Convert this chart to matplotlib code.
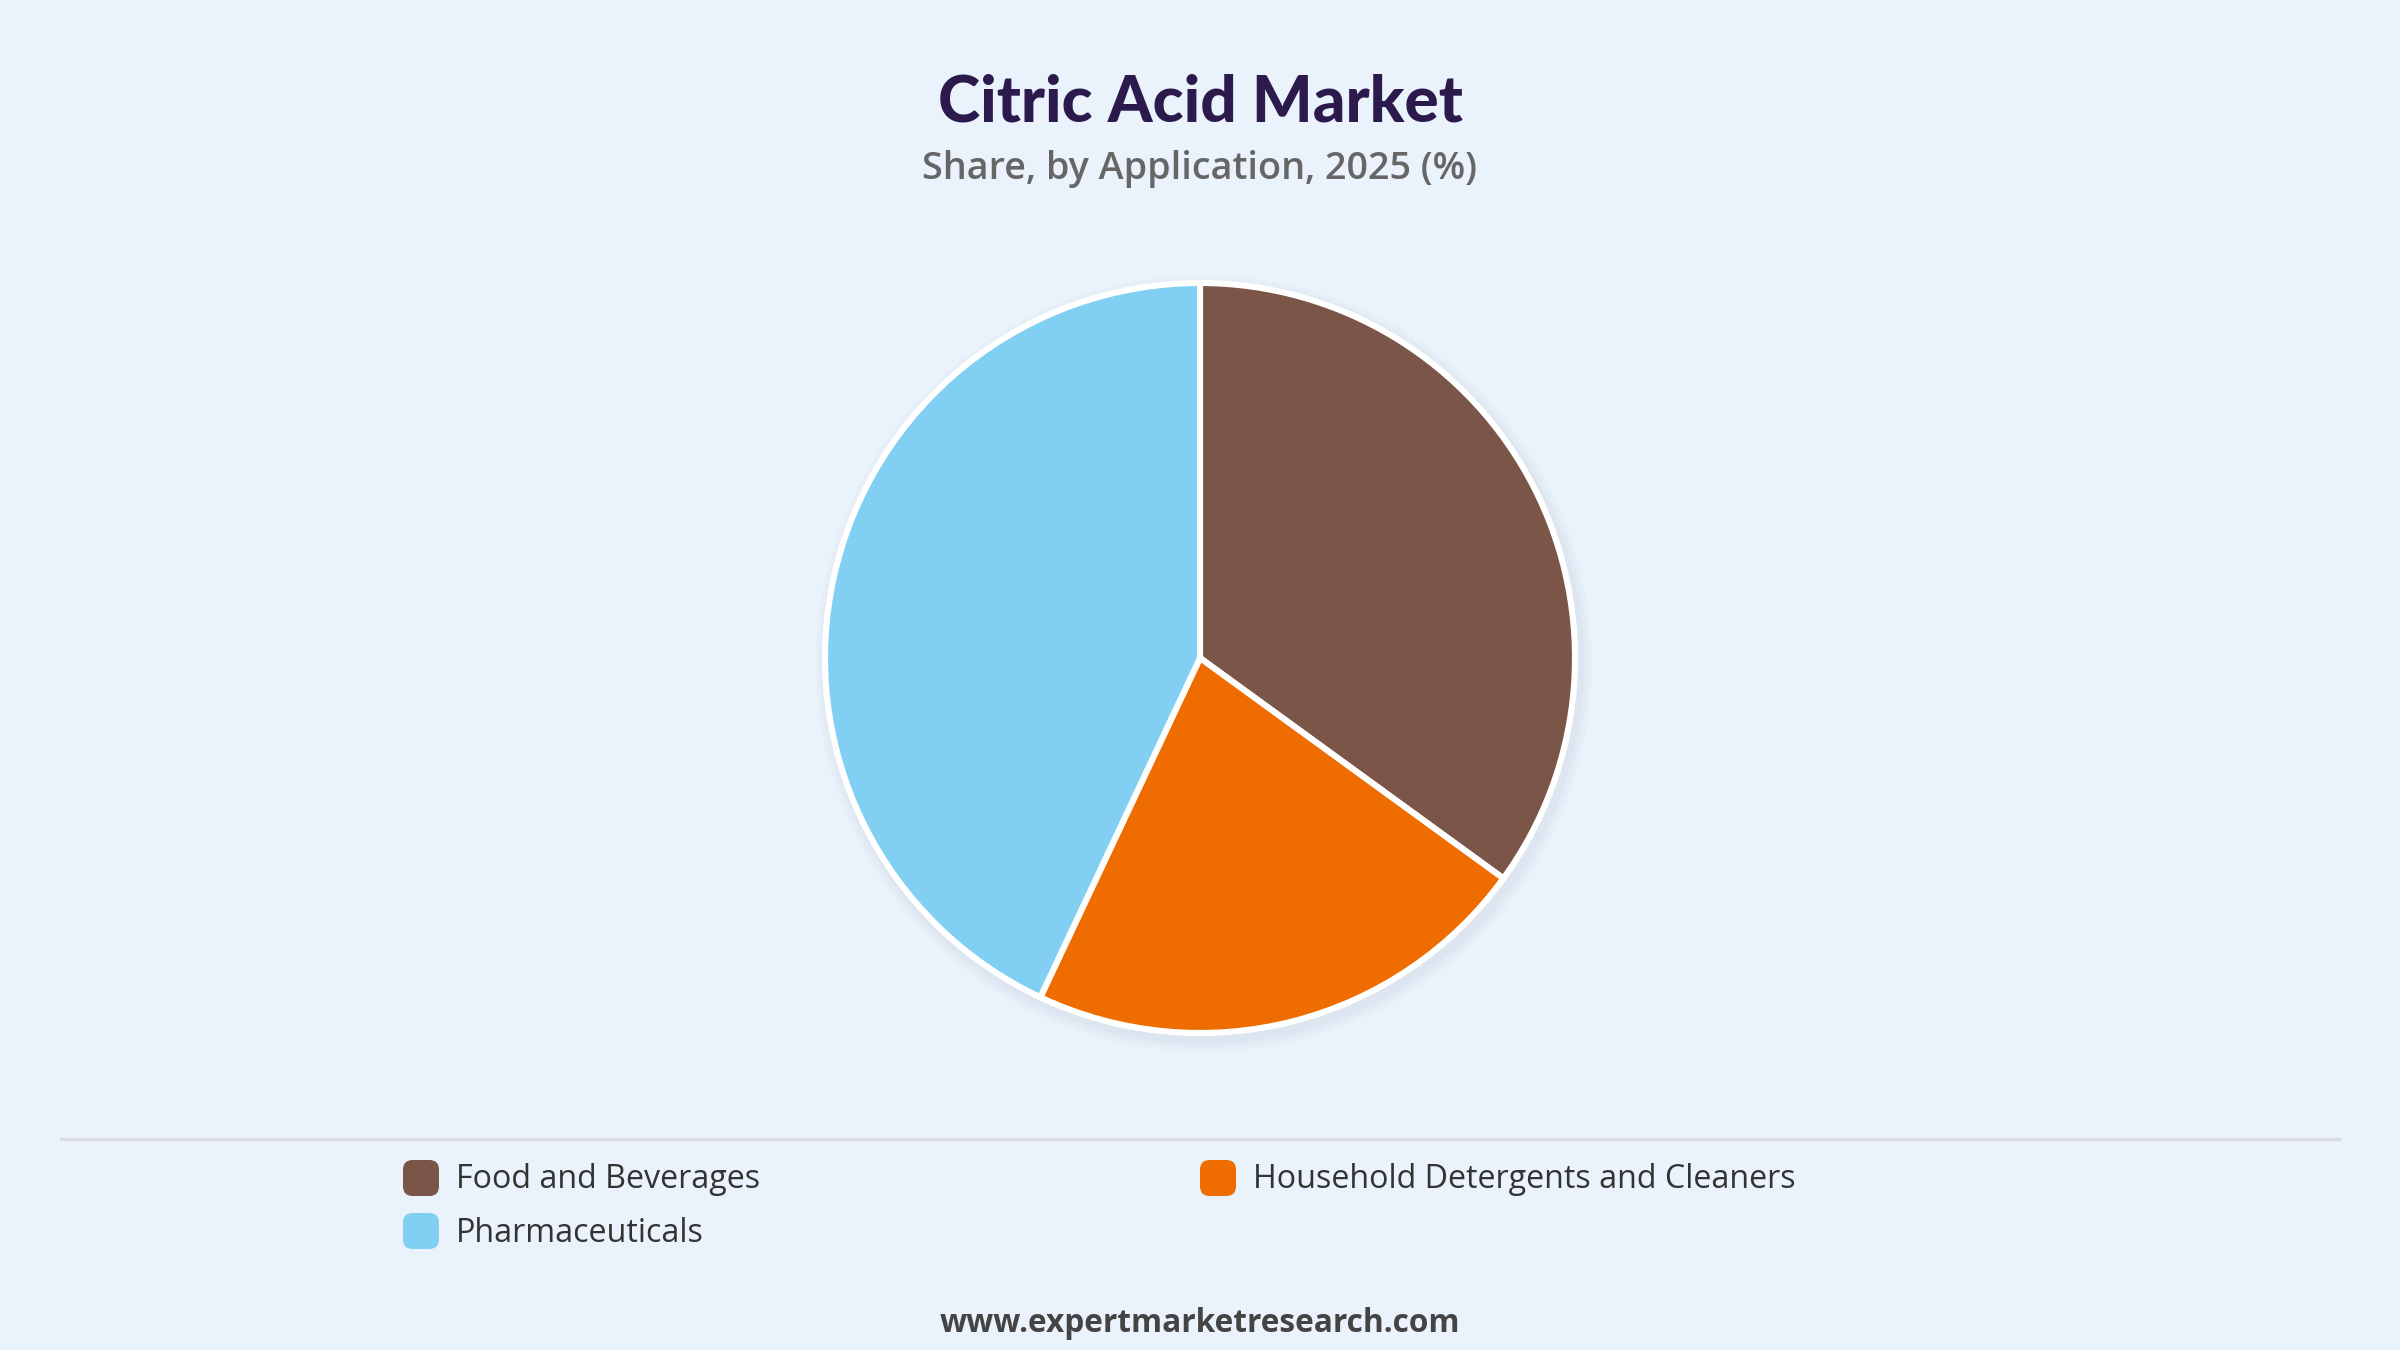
import matplotlib.pyplot as plt
from matplotlib.patches import FancyBboxPatch, Circle
from matplotlib.lines import Line2D

labels = ['Food and Beverages', 'Household Detergents and Cleaners', 'Pharmaceuticals']
shares = [35, 22, 43]
colors = ['#7B5547', '#EF6C00', '#81CFF2']

bg = '#EAF2FB'
plt.rcParams['font.family'] = ['Open Sans', 'DejaVu Sans']

W, H = 2400, 1350
fig = plt.figure(figsize=(12, 6.75), dpi=200, facecolor=bg)

# pie centred at (1200, 658) px, radius 375 px
cx, cy, r = 1200, 658, 375
lim = 1.08
half = r * lim
ax = fig.add_axes([(cx - half) / W, 1 - (cy + half) / H, 2 * half / W, 2 * half / H])
ax.set_facecolor('none')

# soft shadow
for k, a in [(1.035, 0.03), (1.025, 0.04), (1.015, 0.05)]:
    ax.add_patch(Circle((0.01, -0.015), k, color='#8899AA', alpha=a, lw=0, zorder=0))

ax.pie(shares, colors=colors, startangle=90, counterclock=False,
       wedgeprops=dict(edgecolor='white', linewidth=2.2))
ax.set_xlim(-lim, lim)
ax.set_ylim(-lim, lim)
ax.set_aspect('equal')
ax.axis('off')

fig.text(0.5, 1 - 103 / H, 'Citric Acid Market', ha='center', va='center',
         fontsize=23, fontweight='black', family=['Lato', 'DejaVu Sans'], color='#2C1A4D')
fig.text(0.5, 1 - 169 / H, 'Share, by Application, 2025 (%)', ha='center', va='center',
         fontsize=13.6, fontweight='semibold', color='#666666')

# separator
fig.add_artist(Line2D([61 / W, 2339 / W], [1 - 1139 / H, 1 - 1139 / H],
                      color='#D9DDE2', lw=1.2))

# legend
pos = [(403, 1178), (1200, 1178), (403, 1231)]
sq = 36
for (x, y), lab, c in zip(pos, labels, colors):
    fig.add_artist(FancyBboxPatch(((x) / W, 1 - (y + sq / 2) / H), sq / W, sq / H,
                                  boxstyle='round,pad=0,rounding_size=0.004',
                                  transform=fig.transFigure, facecolor=c, edgecolor='none',
                                  mutation_aspect=W / H))
    fig.text((x + sq + 17) / W, 1 - (y + 2) / H, lab, ha='left', va='center',
             fontsize=11.6, color='#333333')

fig.text(0.5, 1 - 1323 / H, 'www.expertmarketresearch.com', ha='center', va='center',
         fontsize=11.4, fontweight='bold', color='#444444')

fig.savefig('out.png', dpi=200, facecolor=bg)
